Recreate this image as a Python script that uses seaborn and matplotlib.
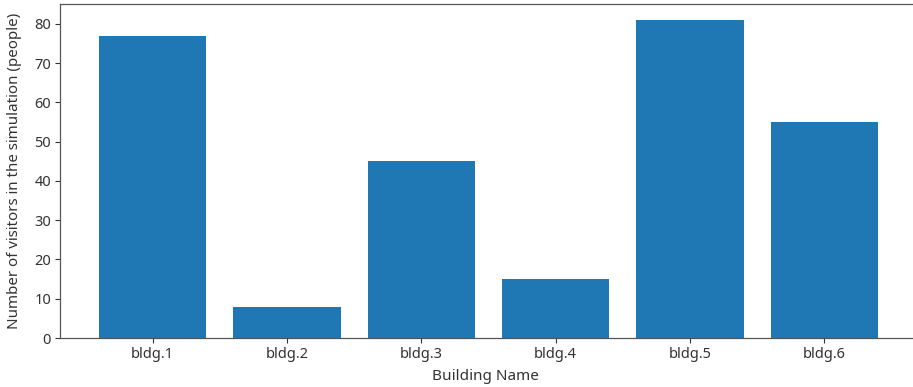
import matplotlib
matplotlib.use("Agg")
import matplotlib.pyplot as plt
import seaborn as sns
import pandas as pd

buildings = ["bldg.1", "bldg.2", "bldg.3", "bldg.4", "bldg.5", "bldg.6"]
visitors = [77, 8, 45, 15, 81, 55]

sns.set_style("ticks")
plt.rcParams["font.family"] = ["Noto Sans", "DejaVu Sans"]
plt.rcParams["font.size"] = 10.5

df = pd.DataFrame({"building": buildings, "visitors": visitors})

W, H = 913, 387
fig = plt.figure(figsize=(W / 100, H / 100), dpi=100)
ax = fig.add_axes([60 / W, (H - 338) / H, 857 / W, 334 / H])

sns.barplot(data=df, x="building", y="visitors", color="#1f77b4",
            saturation=1, width=0.8, ax=ax, edgecolor="none")

ax.set_xlim(-0.69, 5.69)
ax.set_ylim(0, 85.05)
ax.set_yticks(range(0, 81, 10))
ax.set_xlabel("Building Name", color="#333333", fontsize=11)
ax.set_ylabel("Number of visitors in the simulation (people)", color="#333333",
              fontsize=10.9)
ax.xaxis.set_label_coords(0.497, -0.092)
ax.yaxis.set_label_coords(-0.044, 0.5)
ax.tick_params(colors="#333333", labelcolor="#333333", length=3.5, width=0.8,
               pad=3)
for name, s in ax.spines.items():
    s.set_visible(name != "right")
    s.set_color("#555555")
    s.set_linewidth(0.9)

fig.savefig("out.png", dpi=100, facecolor="white")
